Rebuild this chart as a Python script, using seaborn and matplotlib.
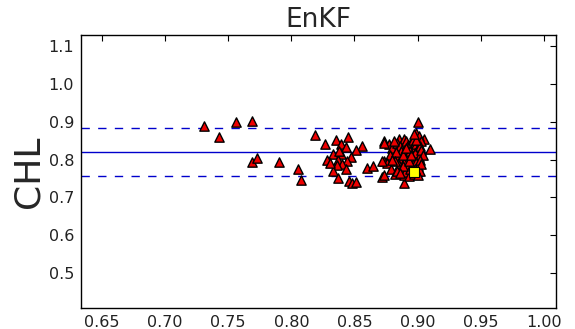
import matplotlib
matplotlib.use("Agg")
import matplotlib.pyplot as plt
import pandas as pd
import seaborn as sns

# Ensemble member scores (x) against CHL (y)
member_x = [
    0.731, 0.743, 0.756, 0.769, 0.769, 0.773, 0.790, 0.805, 0.808,
    0.819, 0.827, 0.835, 0.845, 0.839, 0.843, 0.856, 0.851, 0.833,
    0.839, 0.847, 0.828, 0.837, 0.844, 0.840, 0.836, 0.843, 0.833,
    0.837, 0.846, 0.848, 0.851, 0.860, 0.865, 0.838, 0.831,
    0.873, 0.873, 0.872, 0.889, 0.900, 0.899, 0.910, 0.905, 0.885,
    0.889, 0.877, 0.880, 0.878, 0.876, 0.879, 0.882, 0.884, 0.886,
    0.887, 0.884, 0.886, 0.885, 0.887, 0.889, 0.891, 0.892, 0.890,
    0.893, 0.891, 0.889, 0.892, 0.890, 0.893, 0.895, 0.896, 0.894,
    0.897, 0.895, 0.896, 0.894, 0.897, 0.898, 0.899, 0.900, 0.898,
    0.901, 0.899, 0.900, 0.902, 0.901, 0.903, 0.902, 0.903, 0.904,
    0.902, 0.903, 0.881, 0.883, 0.888, 0.882, 0.888, 0.884, 0.896,
    0.893, 0.898, 0.900, 0.899, 0.897, 0.895, 0.891, 0.886, 0.880,
    0.873, 0.872, 0.873,
]
member_y = [
    0.889, 0.860, 0.899, 0.902, 0.794, 0.804, 0.794, 0.775, 0.746,
    0.865, 0.842, 0.851, 0.860, 0.842, 0.832, 0.836, 0.825, 0.814,
    0.814, 0.807, 0.800, 0.798, 0.797, 0.788, 0.785, 0.775, 0.769,
    0.752, 0.744, 0.737, 0.742, 0.779, 0.782, 0.822, 0.790,
    0.849, 0.797, 0.754, 0.737, 0.900, 0.871, 0.829, 0.855, 0.854,
    0.854, 0.840, 0.830, 0.812, 0.790, 0.775, 0.762, 0.845, 0.835,
    0.822, 0.808, 0.798, 0.785, 0.772, 0.760, 0.850, 0.838, 0.826,
    0.815, 0.803, 0.792, 0.781, 0.768, 0.757, 0.846, 0.834, 0.822,
    0.810, 0.799, 0.788, 0.776, 0.762, 0.858, 0.842, 0.830, 0.818,
    0.806, 0.794, 0.782, 0.770, 0.863, 0.848, 0.836, 0.824, 0.812,
    0.800, 0.788, 0.850, 0.820, 0.812, 0.795, 0.782, 0.770, 0.852,
    0.795, 0.775, 0.760, 0.852, 0.868, 0.812, 0.830, 0.765, 0.800,
    0.845, 0.797, 0.760,
]

# Reference (truth) point
truth_x = [0.897]
truth_y = [0.768]

# Ensemble mean and +/- one standard deviation
chl_mean = 0.820
chl_std = 0.063

x_ticks = [0.65, 0.70, 0.75, 0.80, 0.85, 0.90, 0.95, 1.00]
y_ticks = [0.5, 0.6, 0.7, 0.8, 0.9, 1.0, 1.1]

sns.set_style("white")
plt.rcParams["font.family"] = ["DejaVu Sans"]

fig = plt.figure(figsize=(5.75, 3.29), dpi=100)
ax = fig.add_axes([0.141, 0.064, 0.826, 0.830])

members = pd.DataFrame({"x": member_x, "y": member_y})
truth = pd.DataFrame({"x": truth_x, "y": truth_y})

ax.axhline(chl_mean, color="#0000cc", lw=1.0, zorder=1)
ax.axhline(chl_mean + chl_std, color="#0000cc", lw=1.0, ls=(0, (6, 6)), zorder=1)
ax.axhline(chl_mean - chl_std, color="#0000cc", lw=1.0, ls=(0, (6, 6)), zorder=1)

sns.scatterplot(data=members, x="x", y="y", marker="^", s=45, color="#ee0000",
                edgecolor="black", linewidth=1.0, ax=ax, zorder=3)
sns.scatterplot(data=truth, x="x", y="y", marker="s", s=55, color="#ffff00",
                edgecolor="black", linewidth=0.8, ax=ax, zorder=4)

ax.set_xlim(0.6336, 1.0095)
ax.set_ylim(0.4085, 1.129)
ax.set_xticks(x_ticks)
ax.set_xticklabels([f"{v:.2f}" for v in x_ticks])
ax.set_yticks(y_ticks)
ax.set_yticklabels([f"{v:.1f}" for v in y_ticks])
ax.tick_params(direction="in", length=4, width=0.8, top=True, right=True,
               labelsize=11.5, colors="black", labelcolor="#222222", pad=5)
for spine in ax.spines.values():
    spine.set_color("black")
    spine.set_linewidth(1.0)

ax.set_xlabel("")
ax.set_ylabel("CHL", fontsize=26, labelpad=2)
ax.set_title("EnKF", fontsize=19, pad=6)

fig.savefig("out.png", dpi=100)
